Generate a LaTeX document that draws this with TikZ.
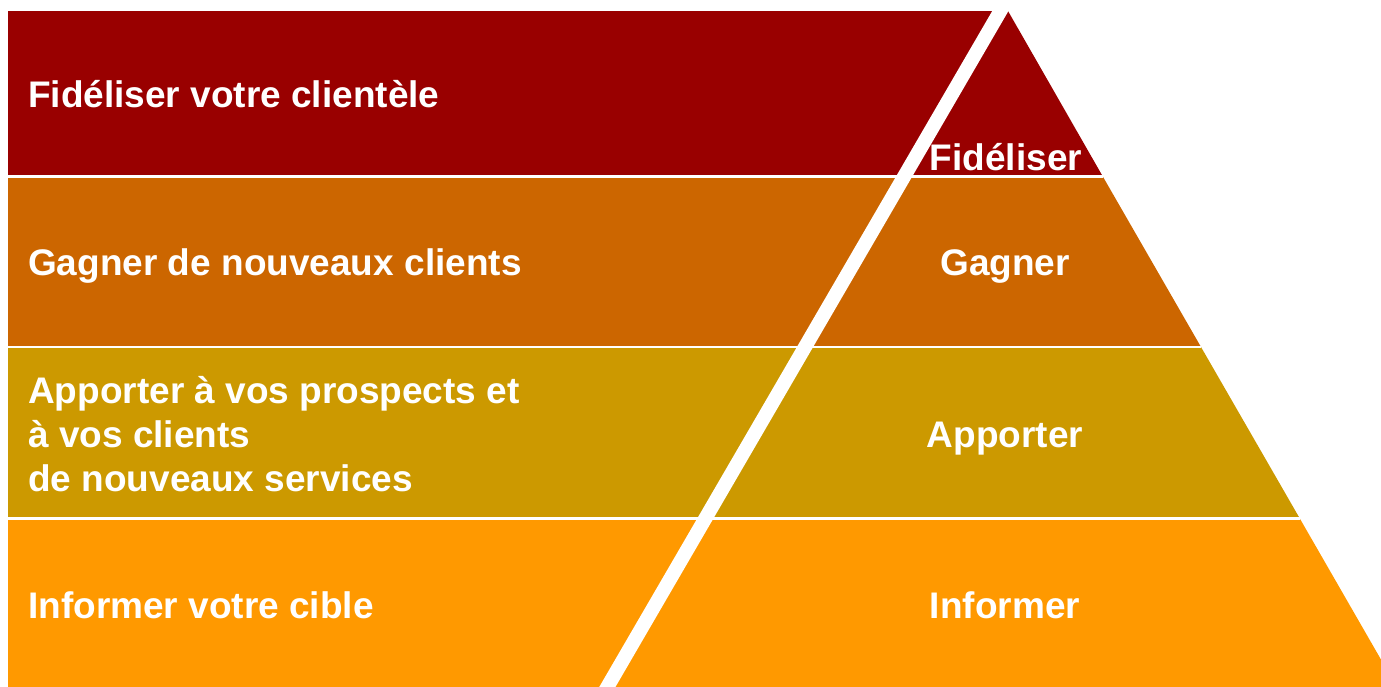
\documentclass[tikz,border=0pt]{standalone}
\usepackage{fontspec}
\setmainfont{Liberation Sans}
\definecolor{fidred}{HTML}{990000}
\definecolor{gagorange}{HTML}{CC6600}
\definecolor{appgold}{HTML}{CC9900}
\definecolor{infoorange}{HTML}{FF9900}

\begin{document}
\begin{tikzpicture}[x=1pt,y=-1pt,line join=miter,
		lbl/.style={text=white,font=\fontsize{37}{44}\selectfont\bfseries,inner sep=0pt},
		sep/.style={white,line width=2.5pt}]
				\useasboundingbox (0,0) rectangle (1381,686);
				\clip (0,0) rectangle (1381,686);
				\fill [fidred] (8,11) -- (1008,11) -- (1102.8,176.5) -- (8,176.5) -- cycle;
				\fill [gagorange] (8,176.5) -- (1102.8,176.5) -- (1201,347) -- (8,347) -- cycle;
				\fill [appgold] (8,347) -- (1201,347) -- (1299.8,518.5) -- (8,518.5) -- cycle;
				\fill [infoorange] (8,518.5) -- (1299.8,518.5) -- (1398.5,690) -- (8,690) -- cycle;
				\draw [sep] (8,176.5) -- (1102.8,176.5);
				\draw [sep] (8,347) -- (1201,347);
				\draw [sep] (8,518.5) -- (1299.8,518.5);
				\draw [white,line width=14pt] (1005,3) -- (605,691);
				\node [lbl,anchor=base west] (fidtxt) at (28,107) {Fidéliser votre clientèle};
				\node [lbl,anchor=base west] (gagtxt) at (28,275) {Gagner de nouveaux clients};
				\node [lbl,anchor=base west] (apptxta) at (28,403) {Apporter à vos prospects et};
				\node [lbl,anchor=base west] (apptxtb) at (28,447) {à vos clients};
				\node [lbl,anchor=base west] (apptxtc) at (28,491) {de nouveaux services};
				\node [lbl,anchor=base west] (inftxt) at (28,618) {Informer votre cible};
				\node [lbl,anchor=base] (fidlbl) at (1006,170) {Fidéliser};
				\node [lbl,anchor=base] (gaglbl) at (1005,275) {Gagner};
				\node [lbl,anchor=base] (applbl) at (1005,447) {Apporter};
				\node [lbl,anchor=base] (inflbl) at (1005,618) {Informer};
\end{tikzpicture}
\end{document}
